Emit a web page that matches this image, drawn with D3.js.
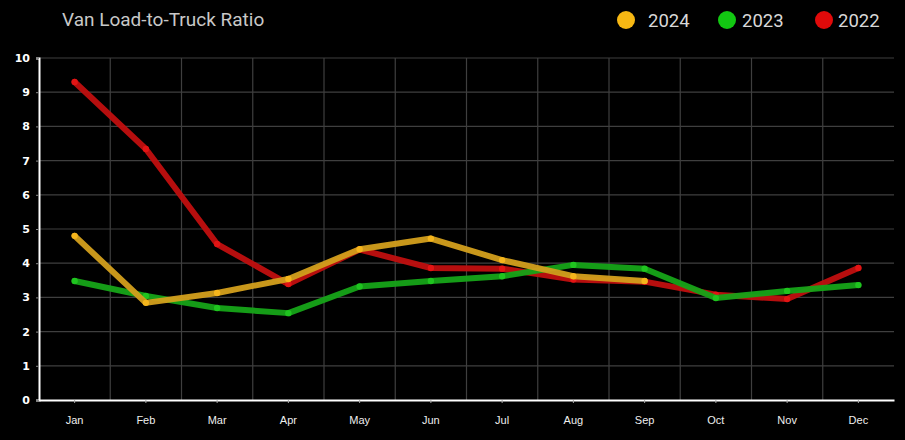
<!DOCTYPE html>
<html><head><meta charset="utf-8">
<script src="https://cdn.jsdelivr.net/npm/d3@7"></script>
<style>
html,body{margin:0;padding:0;background:#000;}
svg{display:block;}
</style></head>
<body>
<svg id="chart" width="905" height="440"></svg>
<script>
const months = ["Jan","Feb","Mar","Apr","May","Jun","Jul","Aug","Sep","Oct","Nov","Dec"];
const yTicks = [0,1,2,3,4,5,6,7,8,9,10];
const values2024 = [4.80, 2.84, 3.13, 3.54, 4.41, 4.72, 4.09, 3.62, 3.48];
const values2023 = [3.48, 3.04, 2.69, 2.54, 3.32, 3.48, 3.62, 3.95, 3.84, 2.98, 3.19, 3.36];
const values2022 = [9.30, 7.34, 4.56, 3.39, 4.40, 3.86, 3.84, 3.52, 3.46, 3.08, 2.95, 3.86];
const seriesNames = ["2024","2023","2022"];
const lineColors = ["#d39f1c","#16a418","#c00f0f"];
const dotColors = ["#f5b51c","#1fc41f","#e21414"];
const legendColors = ["#f7b813","#12c812","#e00a0a"];

const svg = d3.select("#chart");
const W = 905, H = 440;
const m = {left:39, right:11, top:58, bottom:40};
const x = d3.scaleBand().domain(months).range([m.left, W - m.right]);
const y = d3.scaleLinear().domain([0,10]).range([H - m.bottom, m.top]);

svg.append("rect").attr("width",W).attr("height",H).attr("fill","#000");

// grid
const g = svg.append("g");
g.selectAll(".hg").data(yTicks.slice(1)).join("line")
  .attr("x1", m.left).attr("x2", W - m.right)
  .attr("y1", d=>y(d)).attr("y2", d=>y(d))
  .attr("stroke","#3f3f3f").attr("stroke-width",1.2);
g.selectAll(".vg").data(months.slice(1)).join("line")
  .attr("x1", d=>x(d)).attr("x2", d=>x(d))
  .attr("y1", m.top).attr("y2", H - m.bottom)
  .attr("stroke","#3f3f3f").attr("stroke-width",1.2);

// axes
const yAxis = d3.axisLeft(y).tickValues(yTicks).tickSize(3).tickPadding(6);
const yg = svg.append("g").attr("transform",`translate(${m.left},0)`).call(yAxis);
yg.select(".domain").attr("stroke","#fff").attr("stroke-width",2);
yg.selectAll(".tick line").attr("stroke","#888");
yg.selectAll("text").attr("fill","#fff").attr("font-family","'DejaVu Sans', sans-serif")
  .attr("font-size",11).attr("font-weight","bold");

const xAxis = d3.axisBottom(x).tickSize(3).tickPadding(13).tickSizeOuter(0);
const xg = svg.append("g").attr("transform",`translate(0,${H - m.bottom})`).call(xAxis);
xg.select(".domain").attr("stroke","#fff").attr("stroke-width",2);
xg.selectAll(".tick line").attr("stroke","#aaa");
xg.selectAll("text").attr("fill","#eee").attr("font-family","'Liberation Sans Narrow','Liberation Sans', sans-serif")
  .attr("font-size",11);

// lines
const allSeries = [values2024, values2023, values2022];
const line = d3.line().x((d,i)=>x(months[i]) + x.bandwidth()/2).y(d=>y(d));
[2,1,0].forEach(k => {
  const data = allSeries[k];
  svg.append("path").datum(data).attr("d", line)
    .attr("fill","none").attr("stroke", lineColors[k]).attr("stroke-width",6)
    .attr("stroke-linejoin","round").attr("stroke-linecap","round").attr("opacity",0.95);
  svg.append("g").selectAll("circle").data(data).join("circle")
    .attr("cx",(d,i)=>x(months[i]) + x.bandwidth()/2).attr("cy", d=>y(d))
    .attr("r",3.2).attr("fill", dotColors[k]);
});

// title
svg.append("text").attr("x",62).attr("y",26).text("Van Load-to-Truck Ratio")
  .attr("fill","#c8c8c8").attr("font-family","'Liberation Sans Narrow','Roboto', sans-serif")
  .attr("font-size",19);

// legend
const legCX = [626, 727, 824];
const legTX = [648, 742, 838];
seriesNames.forEach((s,i)=>{
  svg.append("circle").attr("cx",legCX[i]).attr("cy",20).attr("r",9).attr("fill",legendColors[i]);
  svg.append("text").attr("x",legTX[i]).attr("y",27).text(s)
    .attr("fill","#d8d8d8").attr("font-family","'Liberation Sans Narrow','Roboto', sans-serif")
    .attr("font-size",18.5);
});
</script>
</body></html>
